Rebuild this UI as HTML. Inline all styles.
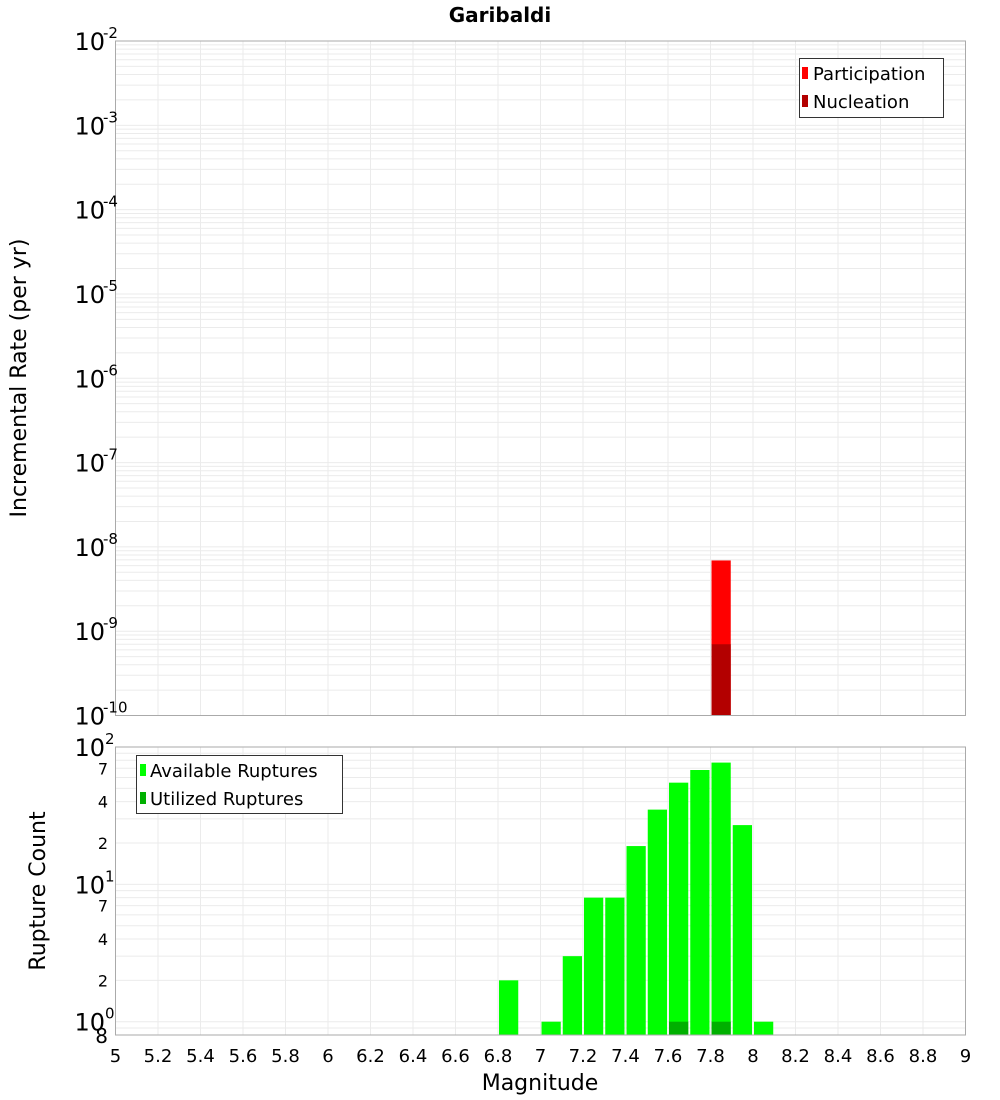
<!DOCTYPE html>
<html><head><meta charset="utf-8"><style>
body{margin:0;background:#fff;}
svg{display:block;font-family:"DejaVu Sans","Liberation Sans",sans-serif;}
</style></head><body>
<svg id="chart" width="1000" height="1100" xmlns="http://www.w3.org/2000/svg"></svg>
<script>
const magBins=[6.85,7.05,7.15,7.25,7.35,7.45,7.55,7.65,7.75,7.85,7.95,8.05];
const availableCounts=[2,1,3,8,8,19,35,55,68,77,27,1];
const utilizedBins=[7.65,7.85];
const utilizedCounts=[1,1];
const rateBins=[7.85];
const participationRates=[6.9e-9];
const nucleationRates=[7e-10];
const xTicks=["5","5.2","5.4","5.6","5.8","6","6.2","6.4","6.6","6.8","7","7.2","7.4","7.6","7.8","8","8.2","8.4","8.6","8.8","9"];
const topExps=[-2,-3,-4,-5,-6,-7,-8,-9,-10];
const botMinorLabels=[[70,"7"],[40,"4"],[20,"2"],[7,"7"],[4,"4"],[2,"2"],[0.8,"8"]];

const svg=document.getElementById('chart');
const NS='http://www.w3.org/2000/svg';
function mk(tag,attrs,parent){const e=document.createElementNS(NS,tag);for(const k in attrs)e.setAttribute(k,attrs[k]);(parent||svg).appendChild(e);return e;}
const L=115.5,R=965.5;
const x=m=>L+(m-5)/4*(R-L);
const T1=41,B1=715.5;
const y1=v=>T1+(-2-Math.log10(v))/8*(B1-T1);
const T2=747,B2=1035;
const y2=v=>T2+(2-Math.log10(v))/Math.log10(100/0.8)*(B2-T2);

// title
let t=mk('text',{x:500,y:22,'text-anchor':'middle','font-size':20,'font-weight':'bold'});
t.textContent='Garibaldi';



// top panel
let p=mk('rect',{x:L,y:T1,width:R-L,height:B1-T1,fill:'#fff'});


for(let e=-10;e<-2;e++)for(let k=1;k<10;k++){const yy=y1(k*Math.pow(10,e));if(yy<T1)continue;
 const g=mk('line',{x1:L,x2:R,y1:yy,y2:yy,stroke:'#ebebeb','stroke-width':1});
 
 }
for(let i=1;i<xTicks.length-1;i++){const xx=x(5+i*0.2);
 const g=mk('line',{x1:xx,x2:xx,y1:T1,y2:B1,stroke:'#ebebeb'});
 
 }
rateBins.forEach((m,i)=>{
 let r=mk('rect',{x:x(m-0.05)+1,y:y1(participationRates[i]),width:x(m+0.05)-x(m-0.05)-2,height:B1-y1(participationRates[i]),fill:'#ff0000'});
 
 
 r=mk('rect',{x:x(m-0.05)+1,y:y1(nucleationRates[i]),width:x(m+0.05)-x(m-0.05)-2,height:B1-y1(nucleationRates[i]),fill:'#b30000'});
 
 
});
let fr=mk('rect',{x:L,y:T1,width:R-L,height:B1-T1,fill:'none',stroke:'#aaa'});


topExps.forEach(e=>{
 const yy=y1(Math.pow(10,e));
 const tx=mk('text',{x:105,y:yy+9,'text-anchor':'end','font-size':24});
 
 
 tx.textContent='10';
 const s=mk('text',{x:103,y:yy-3,'font-size':15});
 
 
 s.textContent=String(e);
});
let yt=mk('text',{x:0,y:0,'font-size':22,'text-anchor':'middle',transform:'translate(26,378) rotate(-90)'});
yt.textContent='Incremental Rate (per yr)';


// top legend
let lg=mk('g',{});


mk('rect',{x:799.5,y:58.5,width:144,height:59,fill:'#fff',stroke:'#333'},lg);
mk('rect',{x:802,y:67,width:6,height:12,fill:'#ff0000'},lg);
mk('rect',{x:802,y:95,width:6,height:12,fill:'#b30000'},lg);
let lt=mk('text',{x:813,y:80,'font-size':18},lg);lt.textContent='Participation';


lt=mk('text',{x:813,y:108,'font-size':18},lg);lt.textContent='Nucleation';



// bottom panel
p=mk('rect',{x:L,y:T2,width:R-L,height:B2-T2,fill:'#fff'});


for(let e=-1;e<2;e++)for(let k=1;k<10;k++){const v=k*Math.pow(10,e);if(v<0.8||v>100)continue;const yy=y2(v);
 const g=mk('line',{x1:L,x2:R,y1:yy,y2:yy,stroke:'#ebebeb'});
 
 }
for(let i=1;i<xTicks.length-1;i++){const xx=x(5+i*0.2);
 const g=mk('line',{x1:xx,x2:xx,y1:T2,y2:B2,stroke:'#ebebeb'});
 
 }
magBins.forEach((m,i)=>{
 const r=mk('rect',{x:x(m-0.05)+1,y:y2(availableCounts[i]),width:x(m+0.05)-x(m-0.05)-2,height:B2-y2(availableCounts[i]),fill:'#00ff00'});
 
 
});
utilizedBins.forEach((m,i)=>{
 const r=mk('rect',{x:x(m-0.05)+1,y:y2(utilizedCounts[i]),width:x(m+0.05)-x(m-0.05)-2,height:B2-y2(utilizedCounts[i]),fill:'#00b000'});
 
 
});
fr=mk('rect',{x:L,y:T2,width:R-L,height:B2-T2,fill:'none',stroke:'#aaa'});


[2,1,0].forEach(e=>{
 const yy=y2(Math.pow(10,e));
 const tx=mk('text',{x:105,y:yy+9,'text-anchor':'end','font-size':24});
 
 
 tx.textContent='10';
 const s=mk('text',{x:105,y:yy-3,'font-size':15});
 
 
 s.textContent=String(e);
});
botMinorLabels.forEach(([v,l])=>{
 const yy=y2(v);
 const tx=mk('text',{x:v<1?108:108,y:yy+(v<1?8:6),'text-anchor':'end','font-size':v<1?20:16});
 
 
 tx.textContent=l;
});
yt=mk('text',{x:0,y:0,'font-size':22,'text-anchor':'middle',transform:'translate(45,891) rotate(-90)'});
yt.textContent='Rupture Count';


xTicks.forEach((l,i)=>{
 const tx=mk('text',{x:x(5+i*0.2),y:1062,'text-anchor':'middle','font-size':18});
 
 
 tx.textContent=l;
});
let xt=mk('text',{x:540,y:1090,'text-anchor':'middle','font-size':22});
xt.textContent='Magnitude';


// bottom legend
lg=mk('g',{});


mk('rect',{x:136.5,y:755.5,width:206,height:58,fill:'#fff',stroke:'#333'},lg);
mk('rect',{x:140,y:764,width:6,height:12,fill:'#00ff00'},lg);
mk('rect',{x:140,y:792,width:6,height:12,fill:'#00b000'},lg);
lt=mk('text',{x:150,y:777,'font-size':18},lg);lt.textContent='Available Ruptures';


lt=mk('text',{x:150,y:805,'font-size':18},lg);lt.textContent='Utilized Ruptures';


</script>
</body></html>
